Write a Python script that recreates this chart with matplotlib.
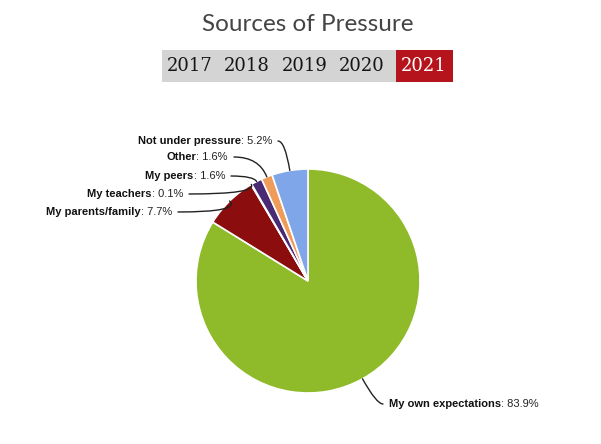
import matplotlib
matplotlib.use("Agg")
import matplotlib.pyplot as plt
import numpy as np
from matplotlib.patches import Rectangle, FancyArrowPatch

categories = ["My own expectations", "My parents/family", "My teachers",
              "My peers", "Other", "Not under pressure"]
values = [83.9, 7.7, 0.1, 1.6, 1.6, 5.2]
colors = ["#8fba29", "#8b0d0d", "#c0504d", "#4a2b73", "#ef9c5a", "#7ea6e8"]
years = ["2017", "2018", "2019", "2020", "2021"]
active_year = "2021"
title = "Sources of Pressure"

W, H = 601, 444
fig = plt.figure(figsize=(W / 100, H / 100), dpi=100)
ax = fig.add_axes([0, 0, 1, 1])

def Y(py):
    return H - py

# Pie
cx, cy, r = 308, Y(281), 112
wedges, _ = ax.pie(values, colors=colors, startangle=90, counterclock=False,
                   center=(cx, cy), radius=r, frame=True,
                   wedgeprops=dict(edgecolor="white", linewidth=1.2))
ax.set_xlim(0, W)
ax.set_ylim(0, H)
ax.axis("off")

# Title
ax.text(308, Y(25), title, ha="center", va="center", fontsize=17.5,
        family=["Lato", "DejaVu Sans"], fontweight="normal", color="#444444")

# Year buttons
ax.add_patch(Rectangle((162, Y(82)), 291, 32, facecolor="#d4d4d4", edgecolor="none"))
ax.add_patch(Rectangle((396, Y(82)), 57, 32, facecolor="#b5141c", edgecolor="none"))
year_x = [190, 247, 305, 362, 424]
for yr, x in zip(years, year_x):
    ax.text(x, Y(66), yr, ha="center", va="center", fontsize=13,
            family=["DejaVu Serif"], fontweight="normal",
            color="white" if yr == active_year else "#151515")

# Labels: (text anchor x px, text y px, side)
label_pos = [(389, 404, "left"), (172, 212, "right"), (183, 194, "right"),
             (225, 176, "right"), (228, 157, "right"), (272, 141, "right")]

total = sum(values)
cum = 0
for cat, val, (lx, ly, side), w in zip(categories, values, label_pos, wedges):
    mid = 90 - (cum + val / 2) / total * 360
    cum += val
    a = np.deg2rad(mid)
    ex, ey = cx + r * np.cos(a), cy + r * np.sin(a)
    fs = 8
    if side == "right":
        t = ax.text(lx, Y(ly), f": {val}%", ha="right", va="center", fontsize=fs,
                    family=["Liberation Sans", "DejaVu Sans"], color="#222222")
        ax.annotate(cat, xy=(0, 0.5), xycoords=t, ha="right", va="center",
                    fontsize=fs, fontweight="bold",
                    family=["Liberation Sans", "DejaVu Sans"], color="#111111")
        sx = lx + 6
    else:
        t = ax.text(lx, Y(ly), cat, ha="left", va="center", fontsize=fs,
                    fontweight="bold", family=["Liberation Sans", "DejaVu Sans"],
                    color="#111111")
        ax.annotate(f": {val}%", xy=(1, 0.5), xycoords=t, ha="left", va="center",
                    fontsize=fs, family=["Liberation Sans", "DejaVu Sans"],
                    color="#222222")
        sx = lx - 6
    conn = FancyArrowPatch((sx, Y(ly)), (ex, ey), arrowstyle="-",
                           connectionstyle=f"angle3,angleA=0,angleB={mid:.1f}",
                           shrinkA=0, shrinkB=0, color="#222222", linewidth=1.0)
    ax.add_patch(conn)

fig.savefig("out.png", dpi=100, facecolor="white")
